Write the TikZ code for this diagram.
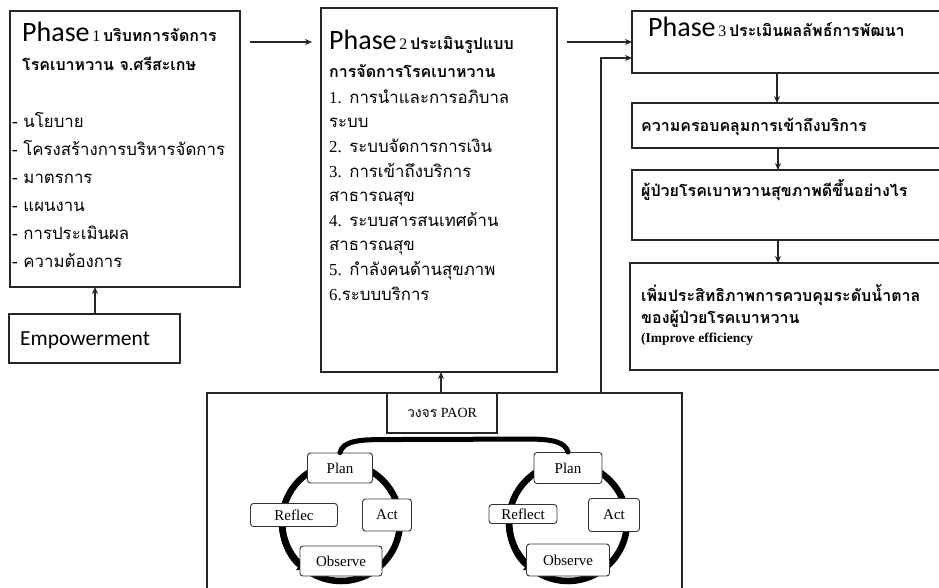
\documentclass[tikz,border=0pt]{standalone}
\usepackage{fontspec}
\setmainfont{Liberation Serif}
\newfontfamily\thaifont[Script=Thai]{Loma}
\newfontfamily\calib{Carlito}
\usetikzlibrary{arrows.meta,calc}
\begin{document}
\begin{tikzpicture}[x=1pt,y=-1pt,
  frame/.style={draw=black!85,line width=1.2pt,fill=white,inner sep=0pt,outer sep=0pt,anchor=north west},
  txt/.style={inner sep=0pt,anchor=base west,align=left},
  head/.style={txt,font=\thaifont\bfseries\fontsize{16}{18}\selectfont},
  list/.style={txt,font=\thaifont\fontsize{16.8}{#1}\selectfont},
  arr/.style={draw=black!85,line width=1.1pt,-{Stealth[length=7pt,width=6pt]}},
  ring/.style={line width=6.5pt,black},
  pill/.style={draw=black!80,line width=0.9pt,rounded corners=3pt,fill=white,inner sep=0pt,font=\fontsize{15}{17}\selectfont},
]
\newcommand\phaselabel[1]{{\calib\mdseries\fontsize{28}{30}\selectfont Phase}\,{\rmfamily\mdseries\fontsize{16}{18}\selectfont #1}\,}
\useasboundingbox (0,0) rectangle (939,587);
\clip (0,0) rectangle (939,587);

% ---------- Phase 1 ----------
\node[frame,minimum width=230pt,minimum height=276pt] (p1) at (10,11) {};
\node[head] (p1h) at (22,41) {\phaselabel{1}บริบทการจัดการ};
\node[head] (p1h2) at (22,70) {โรคเบาหวาน จ.ศรีสะเกษ};
\node[list=28] (p1l) at (12,267) {- นโยบาย\\ - โครงสร้างการบริหารจัดการ\\ - มาตรการ\\ - แผนงาน\\ - การประเมินผล\\ - ความต้องการ};

% ---------- Empowerment ----------
\node[frame,minimum width=171pt,minimum height=49pt] (emp) at (9,314) {};
\node[txt] (empt) at (20,345) {\calib\fontsize{21.5}{24}\selectfont Empowerment};
\draw[arr] (emp.north -| 95,0) -- (p1.south -| 95,0);

% ---------- Phase 2 ----------
\node[frame,minimum width=236pt,minimum height=364pt] (p2) at (321,8) {};
\node[head] (p2h) at (329,49) {\phaselabel{2}ประเมินรูปแบบ};
\node[head] (p2h2) at (329,77) {การจัดการโรคเบาหวาน};
\node[list=24.6] (p2l) at (329,300) {\textrm{1.} การนำและการอภิบาล\\ ระบบ\\ \textrm{2.} ระบบจัดการการเงิน\\ \textrm{3.} การเข้าถึงบริการ\\ สาธารณสุข\\
  \textrm{4.} ระบบสารสนเทศด้าน\\ สาธารณสุข\\ \textrm{5.} กำลังคนด้านสุขภาพ\\ \textrm{6.}ระบบบริการ};

\draw[arr] ($(p1.north east)+(10,31)$) -- ($(p2.north west)+(-9,34)$);

% ---------- Phase 3 and outcomes ----------
\node[frame,minimum width=320pt,minimum height=62pt] (p3) at (632,11) {};
\node[head] (p3h) at (648,36) {\phaselabel{3}ประเมินผลลัพธ์การพัฒนา};
\draw[arr] ($(p2.north east)+(10,34)$) -- ($(p3.north west)+(0,31)$);

\node[frame,minimum width=320pt,minimum height=45pt] (o1) at (632,103) {};
\node[head] (o1t) at (641,131) {ความครอบคลุมการเข้าถึงบริการ};

\node[frame,minimum width=320pt,minimum height=70pt] (o2) at (632,170) {};
\node[head] (o2t) at (641,196) {ผู้ป่วยโรคเบาหวานสุขภาพดีขึ้นอย่างไร};

\node[frame,minimum width=320pt,minimum height=107pt] (o3) at (630,263) {};
\node[head,font=\thaifont\bfseries\fontsize{16}{22}\selectfont] (o3t) at (641,323) {เพิ่มประสิทธิภาพการควบคุมระดับน้ำตาล\\ ของผู้ป่วยโรคเบาหวาน};
\node[txt] (o3e) at (641,342) {\bfseries\fontsize{13.5}{15}\selectfont (Improve efficiency};

\draw[arr] (p3.south -| 777,0) -- (o1.north -| 777,0);
\draw[arr] (o1.south -| 778,0) -- (o2.north -| 778,0);
\draw[arr] (o2.south -| 778,0) -- (o3.north -| 778,0);

% ---------- PAOR cycle panel ----------
\node[frame,minimum width=475pt,minimum height=220pt] (cyc) at (207,393) {};
\node[frame,minimum width=110pt,minimum height=40pt] (paor) at (387,393) {};
\node[inner sep=0pt] (paort) at (paor.center) {\fontsize{14}{16}\selectfont{\thaifont วงจร} PAOR};

\draw[arr] (cyc.north -| 441,0) -- (p2.south -| 441,0);
\coordinate (turn) at (601,58);
\draw[arr] (cyc.north -| turn) -- (turn) -- (p3.west |- turn);

% left loop
\coordinate (lc) at (341,522);
\draw[ring] (lc) circle[radius=59pt];
\draw[ring,-{Triangle[length=7pt,width=13pt]}] ($(lc)+(180:59pt)$) arc[start angle=180,end angle=233,radius=59pt];
% right loop
\coordinate (rc) at (568,522);
\draw[ring] (rc) circle[radius=59pt];
\draw[ring,-{Triangle[length=7pt,width=13pt]}] ($(rc)+(180:59pt)$) arc[start angle=180,end angle=233,radius=59pt];

\node[pill,minimum width=65pt,minimum height=30pt] (lplan) at (340,468) {Plan};
\node[pill,minimum width=87pt,minimum height=23pt] (lref) at (294,515) {Reflec};
\node[pill,minimum width=49pt,minimum height=32pt] (lact) at (387,515) {Act};
\node[pill,minimum width=82pt,minimum height=30pt] (lobs) at (341,561) {Observe};

\node[pill,minimum width=68pt,minimum height=31pt] (rplan) at (568,468) {Plan};
\node[pill,minimum width=68pt,minimum height=19pt] (rref) at (523,514) {Reflect};
\node[pill,minimum width=51pt,minimum height=33pt] (ract) at (614,515) {Act};
\node[pill,minimum width=83pt,minimum height=32pt] (robs) at (568,560) {Observe};

% bridge between the two loops
\draw[line width=5pt,line cap=round] (lplan.north) .. controls ($(lplan.north)+(3,-12)$) and ($(lplan.north)+(20,-13)$) .. ($(lplan.north)+(45,-13)$)
  -- ($(rplan.north)+(-40,-13)$) .. controls ($(rplan.north)+(-15,-13)$) and ($(rplan.north)+(-3,-10)$) .. (rplan.north);
\end{tikzpicture}
\end{document}
